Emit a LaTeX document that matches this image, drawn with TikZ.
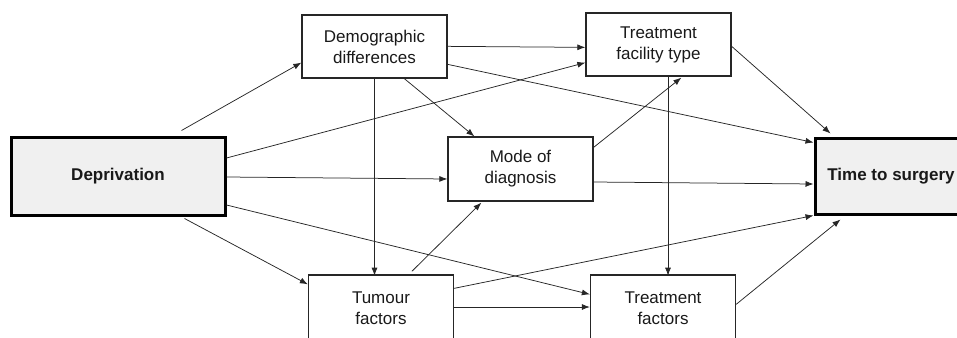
\documentclass[tikz,border=0pt]{standalone}
\usepackage{fontspec}
\setmainfont{Liberation Sans}
\usetikzlibrary{arrows.meta,calc}
\begin{document}
\begin{tikzpicture}[x=1pt,y=-1pt,
  every node/.style={font=\fontsize{17}{21}\selectfont, text=black!90, align=center, inner sep=0pt},
  thinbox/.style={draw=black!85, line width=1.3pt, minimum width=145pt, minimum height=63pt},
  thickbox/.style={draw=black, line width=3pt, fill=black!6, font=\fontsize{17}{21}\selectfont\bfseries},
  conn/.style={draw=black!85, line width=0.75pt, -{Latex[length=8pt,width=6pt]}}]
\useasboundingbox (0,0) rectangle (957,337);
\clip (0,0) rectangle (957,337);
\node[thickbox, minimum width=214pt, minimum height=78pt] (dep) at (118,176) {Deprivation};
\node[thickbox, minimum width=152pt, minimum height=76pt] (tts) at (891,176) {Time to surgery};
\node[thinbox] (demo) at (374.5,46.5) {Demographic\\differences};
\node[thinbox] (tft) at (658.5,44.5) {Treatment\\facility type};
\node[thinbox, minimum height=64pt] (mode) at (520.5,169) {Mode of\\diagnosis};
\node[thinbox, minimum height=66pt] (tum) at (381,308) {Tumour\\factors};
\node[thinbox, minimum height=66pt] (trf) at (663,308) {Treatment\\factors};
% from Deprivation
\draw[conn] ($(dep.north west)+(172,-5)$) -- ($(demo.south west)+(0,-16)$);
\draw[conn] ($(dep.east)+(0,-18)$) -- ($(tft.south west)+(0,-14)$);
\draw[conn] ($(dep.east)+(0,1)$) -- ($(mode.west)+(0,10)$);
\draw[conn] ($(dep.east)+(0,29)$) -- ($(trf.north west)+(0,20)$);
\draw[conn] ($(dep.south east)+(-42,2)$) -- ($(tum.north west)+(0,10)$);
% from Demographic differences
\draw[conn] ($(demo.north east)+(0,32)$) -- ($(tft.north west)+(0,35)$);
\draw[conn] ($(demo.north east)+(0,50)$) -- ($(tts.north west)+(0,6)$);
\draw[conn] ($(demo.south west)+(103,0)$) -- ($(mode.north west)+(27,0)$);
\draw[conn] (demo.south) -- ($(demo.south)+(0,197)$);
% from Treatment facility type
\draw[conn] ($(tft.north east)+(0,34)$) -- ($(tts.north west)+(17,-3)$);
\draw[conn] ($(tft.south)+(9.5,0)$) -- ($(tft.south)+(9.5,199)$);
% from Mode of diagnosis
\draw[conn] ($(mode.north east)+(0,11)$) -- ($(tft.south west)+(96,1)$);
\draw[conn] ($(mode.east)+(0,13)$) -- ($(tts.west)+(0,8)$);
% from Tumour factors
\draw[conn] ($(tum.north west)+(104,-3)$) -- ($(mode.south west)+(34,1)$);
\draw[conn] ($(tum.north east)+(0,14)$) -- (tts.south west);
\draw[conn] ($(tum.east)+(0,-1)$) -- ($(trf.west)+(0,-1)$);
% from Treatment factors
\draw[conn] ($(trf.north east)+(0,30)$) -- ($(tts.south west)+(27,4)$);
\end{tikzpicture}
\end{document}
